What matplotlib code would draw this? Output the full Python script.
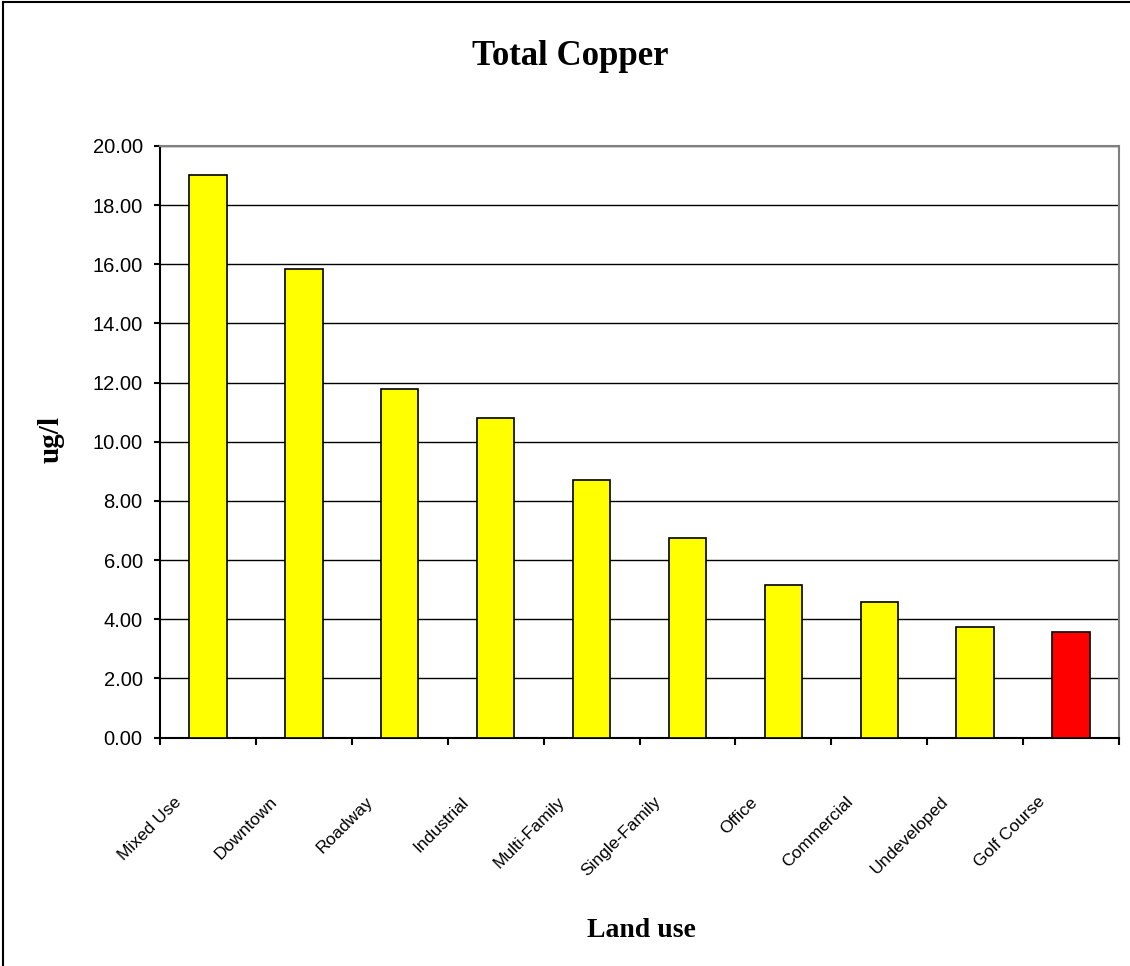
import numpy as np
import matplotlib.pyplot as plt
from matplotlib.lines import Line2D
from matplotlib.transforms import ScaledTranslation

# total copper concentration by land use
land_use = ["Mixed Use", "Downtown", "Roadway", "Industrial", "Multi-Family",
            "Single-Family", "Office", "Commercial", "Undeveloped", "Golf Course"]
copper = [19.00, 15.84, 11.79, 10.80, 8.69, 6.76, 5.14, 4.58, 3.75, 3.58]
bar_colors = ["yellow"] * 9 + ["red"]

fig = plt.figure(figsize=(11.3, 9.66), dpi=100)
ax = fig.add_axes([0.1416, 0.2365, 0.8487, 0.6125])

x = np.arange(len(land_use))
ax.set_axisbelow(True)
ax.yaxis.grid(True, color="black", linewidth=1.0)
ax.bar(x, copper, width=0.39, color=bar_colors, edgecolor="black", linewidth=1.2, zorder=3)

ax.set_xlim(-0.5, len(land_use) - 0.5)
ax.set_ylim(0, 20)
ax.set_yticks(np.arange(0, 21, 2))
ax.set_yticklabels(["%.2f" % v for v in np.arange(0, 21, 2)],
                   fontsize=14.5, family="Liberation Sans")
ax.tick_params(axis="y", direction="out", length=4.5, width=1.5, pad=8)

# ticks on category boundaries, labels on category centres
ax.set_xticks(np.arange(-0.5, len(land_use), 1.0))
ax.set_xticklabels([])
ax.tick_params(axis="x", which="major", direction="out", length=5, width=1.5)
ax.set_xticks(x, minor=True)
ax.set_xticklabels(land_use, minor=True, rotation=45, ha="right", va="center",
                   rotation_mode="anchor", fontsize=12.5, family="Liberation Sans")
ax.tick_params(axis="x", which="minor", length=0, pad=0)
shift = ScaledTranslation(-0.29, -0.62, fig.dpi_scale_trans)
for lab in ax.get_xticklabels(minor=True):
    lab.set_transform(lab.get_transform() + shift)

for side in ("left", "bottom"):
    ax.spines[side].set_linewidth(1.5)
for side in ("top", "right"):
    ax.spines[side].set_color("#808080")
    ax.spines[side].set_linewidth(1.5)

fig.text(0.505, 0.941, "Total Copper", ha="center", va="center",
         fontsize=25, fontweight="bold", family="Liberation Serif")
ax.set_xlabel("Land use", fontsize=20, fontweight="bold", family="Liberation Serif")
ax.xaxis.set_label_coords(0.502, -0.305)
ax.set_ylabel("ug/l", fontsize=21, fontweight="bold", family="Liberation Serif")
ax.yaxis.set_label_coords(-0.100, 0.503)

# outer frame
fig.add_artist(Line2D([0.0027, 1.0], [0.998, 0.998], color="black", linewidth=1.5))
fig.add_artist(Line2D([0.0027, 0.0027], [0.0, 0.998], color="black", linewidth=1.5))

fig.savefig("out.png", dpi=100)
